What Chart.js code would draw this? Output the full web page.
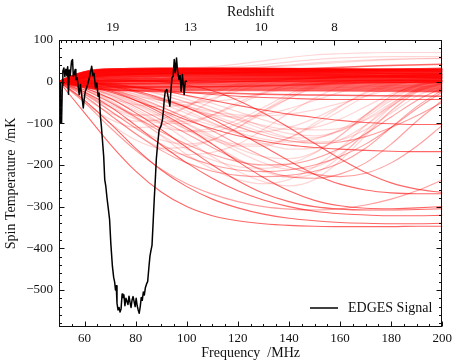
<!DOCTYPE html>
<html><head><meta charset="utf-8">
<script src="https://cdn.jsdelivr.net/npm/chart.js@4.4.0/dist/chart.umd.min.js"></script>
<style>html,body{margin:0;padding:0;background:#fff;overflow:hidden}canvas{display:block}</style>
</head><body>
<canvas id="c" width="456" height="361"></canvas>
<script>
// ---------- data ----------
const FREQ_GRID = [50,60,70,80,90,100,110,120,130,140,150,160,170,180,190,200];
const BAND_GRID = [50,55,60,65,75,90,110,130,150,175,200];
const X_TICKS = [60,80,100,120,140,160,180,200];
const Y_TICKS = [-500,-400,-300,-200,-100,0,100];
const REDSHIFT_TICKS = [19,13,10,8];
const REDSHIFT_MINOR = [27,26,25,24,23,22,21,20,18,17,16,15,14,12,11,10.5,9.5,9,8.5,7.5,7,6.5];

const EDGES_FREQ = [50.0,50.4,50.6,51.0,51.3,51.5,51.9,52.3,52.7,53.1,53.4,53.7,54.0,54.4,54.9,55.3,55.6,56.0,56.3,56.6,57.1,57.5,57.9,58.4,59.1,59.5,59.9,60.3,60.8,61.3,61.9,62.4,62.8,63.3,63.7,64.3,64.8,65.3,65.7,66.2,66.6,67.0,67.5,67.9,68.3,68.8,69.3,69.8,70.3,70.9,71.4,71.8,72.1,72.4,72.7,73.1,73.5,73.9,74.3,74.7,75.0,75.4,75.8,76.2,76.6,77.0,77.4,77.8,78.2,78.6,79.0,79.4,79.8,80.2,80.6,81.0,81.4,81.8,82.2,82.6,83.0,83.4,83.8,84.3,84.7,85.2,85.6,86.0,86.4,86.9,87.3,87.7,88.1,88.6,89.2,89.9,90.5,90.9,91.2,91.6,92.2,92.9,93.4,93.8,94.2,94.7,95.1,95.5,96.0,96.4,97.0,97.4,97.8,98.3,99.0,99.4,99.9];
const EDGES_TEMP = [0,-5,-98,-100,-10,25,33,12,30,14,36,-30,28,15,49,53,13,20,29,5,9,-10,-31,-7,-43,-63,-40,-23,-15,-5,10,25,37,14,20,-15,-3,-35,-27,-83,-108,-140,-180,-235,-250,-280,-305,-331,-390,-443,-470,-482,-500,-490,-532,-548,-542,-553,-545,-510,-518,-512,-538,-520,-527,-535,-515,-530,-542,-524,-516,-528,-540,-520,-538,-548,-556,-540,-518,-525,-505,-512,-495,-485,-480,-445,-419,-405,-393,-331,-280,-235,-185,-150,-115,-107,-91,-67,-43,-23,-19,-43,-59,-23,9,13,53,22,57,25,5,15,-23,17,-31,1,1];

// dense band of near-flat models (sampled at BAND_GRID)
const BAND_CURVES = [
 [0,14,24,29,31,32,32,32,31,30,30],
 [0,14,23,28,31,32,32,31,31,30,29],
 [0,13,23,28,30,31,31,31,30,29,29],
 [0,12,22,27,29,30,30,30,29,28,27],
 [0,11,21,26,28,29,29,29,28,27,26],
 [0,11,20,25,28,29,29,28,27,26,25],
 [0,10,19,24,27,28,28,27,26,25,24],
 [0,10,18,23,26,27,27,26,25,24,22],
 [0,9,17,22,25,26,26,25,24,22,21],
 [0,8,16,21,24,25,25,24,23,21,19],
 [0,8,15,20,23,24,24,23,22,20,18],
 [0,7,14,19,22,23,23,22,21,20,18],
 [0,7,13,18,21,22,22,21,20,19,17],
 [0,6,12,17,20,21,21,20,19,17,15],
 [0,6,11,15,18,20,20,19,18,16,14],
 [0,5,10,14,17,19,19,18,17,15,13],
 [0,5,9,13,16,18,18,17,16,14,12],
 [0,4,8,12,15,17,17,16,15,13,11],
 [0,4,8,11,14,15,16,15,14,12,10],
 [0,3,7,10,12,14,14,14,13,11,9],
 [0,3,6,9,11,13,13,13,12,11,9],
 [0,2,5,7,9,11,11,11,10,9,8],
 [0,2,4,6,8,9,10,10,9,8,7],
 [0,1,3,4,6,7,8,8,7,6,5],
 [0,1,2,3,5,6,7,7,6,5,4],
 [0,0,1,2,3,4,5,5,4,3,2],
 [0,0,0,1,2,3,3,3,2,1,0],
 [0,0,-1,-1,0,1,1,1,0,-1,-2],
 [0,-1,-2,-2,-1,0,0,0,-1,-2,-3],
 [0,-2,-3,-4,-4,-3,-3,-3,-4,-5,-6],
 [0,-3,-5,-6,-6,-6,-6,-6,-7,-8,-10],
 [0,-3,-6,-8,-9,-9,-9,-9,-10,-11,-13],
 [0,-4,-8,-10,-12,-12,-12,-12,-13,-14,-16],
 [0,-5,-9,-12,-14,-15,-15,-15,-16,-17,-19],
 [0,-6,-11,-15,-17,-18,-18,-18,-19,-20,-22],
 [0,-7,-13,-17,-20,-21,-21,-21,-22,-23,-24],
 [0,10,18,22,24,25,26,28,32,38,42],
 [0,-2,-4,-5,-5,-4,-2,2,8,14,18],
 [0,-5,-9,-12,-13,-13,-12,-10,-6,-2,0],
 [0,5,10,14,17,19,21,23,26,28,30],
 [0,8,14,18,20,21,22,24,27,29,32],
 [0,-8,-14,-18,-21,-24,-27,-30,-32,-34,-35],
 [0,12,21,26,28,29,29,29,28,26,24],
 [0,6,12,16,19,20,21,22,24,26,28],
 [0,-1,-1,0,1,2,4,6,9,12,15]
];

// faint models rising above the band (sampled at FREQ_GRID)
const HIGH_CURVES = [
 [0,18,26,29,31,33,36,42,50,58,64,67,69,70,70,70],
 [0,16,24,27,29,31,33,36,41,47,53,57,59,60,60,60],
 [0,15,23,26,28,29,30,32,35,40,45,49,52,54,55,55],
 [0,17,25,28,30,31,32,33,35,38,42,46,50,53,55,56]
];

// deep / strongly absorbing models (sampled at FREQ_GRID)
const DEEP_CURVES = [
 [0,-75,-150,-215,-265,-300,-322,-334,-341,-345,-347,-348,-348,-348,-347,-347],
 [0,-45,-100,-160,-212,-252,-282,-303,-318,-328,-334,-338,-340,-341,-341,-340],
 [0,-25,-60,-105,-152,-195,-232,-262,-284,-300,-311,-317,-320,-322,-322,-321],
 [0,-15,-40,-75,-115,-158,-200,-238,-268,-288,-300,-306,-308,-308,-307,-305],
 [0,-8,-22,-45,-75,-110,-150,-192,-230,-262,-285,-298,-304,-305,-303,-300],
 [0,-3,-10,-22,-40,-62,-90,-122,-155,-190,-222,-246,-260,-267,-269,-269],
 [0,3,4,3,0,-8,-22,-45,-75,-110,-148,-185,-218,-243,-258,-266],
 [0,-10,-25,-45,-68,-92,-113,-130,-143,-152,-158,-162,-165,-167,-168,-168],
 [0,-2,-6,-13,-22,-33,-45,-57,-68,-78,-86,-93,-98,-101,-103,-103],
 [0,-3,-8,-14,-20,-26,-31,-35,-38,-40,-42,-43,-43,-43,-43,-43]
];

// medium models that dip and recover (sampled at FREQ_GRID)
const MID_CURVES = [
 [0,-20,-50,-85,-120,-150,-175,-192,-200,-198,-185,-160,-125,-85,-45,-15],
 [0,-12,-32,-60,-92,-125,-158,-188,-212,-228,-232,-222,-195,-150,-95,-45],
 [0,-30,-70,-112,-150,-180,-200,-212,-216,-212,-200,-180,-150,-110,-65,-25],
 [0,-6,-18,-36,-60,-88,-118,-150,-180,-205,-222,-228,-220,-195,-155,-105],
 [0,-4,-12,-25,-42,-62,-85,-108,-128,-142,-148,-145,-132,-110,-82,-50],
 [0,-50,-110,-165,-210,-245,-270,-288,-300,-306,-308,-305,-296,-282,-262,-236],
 [0,-35,-80,-125,-165,-195,-215,-225,-228,-225,-215,-195,-160,-110,-60,-20]
];

// faint absorption troughs (sampled at FREQ_GRID)
const FAINT_CURVES = [
 [0,-40,-75,-95,-90,-60,-25,-5,0,2,3,3,3,3,3,3],
 [0,-30,-60,-80,-80,-60,-30,-8,0,2,2,2,2,2,2,2],
 [0,-20,-50,-80,-100,-100,-80,-50,-25,-8,0,2,3,3,3,3],
 [0,-15,-40,-70,-100,-120,-120,-100,-70,-40,-15,-3,0,1,1,1],
 [0,-25,-70,-110,-140,-150,-140,-110,-70,-35,-10,0,2,3,3,3],
 [0,-10,-30,-55,-85,-115,-140,-155,-155,-135,-100,-60,-25,-5,0,2],
 [0,-5,-18,-40,-70,-100,-130,-160,-180,-185,-170,-130,-80,-35,-8,0],
 [0,-8,-25,-50,-80,-115,-150,-185,-215,-230,-220,-180,-120,-60,-20,-5],
 [0,-12,-35,-65,-100,-140,-180,-215,-240,-250,-235,-190,-130,-70,-25,-8],
 [0,0,-5,-15,-30,-50,-70,-90,-105,-115,-110,-90,-60,-30,-10,0],
 [0,-3,-10,-25,-45,-65,-80,-85,-80,-65,-45,-25,-10,-2,0,1],
 [0,-20,-40,-55,-60,-55,-40,-22,-8,0,2,3,3,3,3,3],
 [0,-2,-8,-18,-32,-50,-70,-92,-115,-135,-145,-140,-115,-75,-35,-10],
 [0,-5,-15,-30,-45,-60,-72,-80,-82,-78,-68,-52,-35,-18,-6,0],
 [0,-10,-22,-35,-45,-50,-48,-40,-28,-15,-5,0,2,3,3,3],
 [0,-50,-90,-110,-105,-80,-45,-15,-2,2,3,3,3,3,3,3],
 [0,-35,-80,-125,-160,-175,-170,-150,-115,-75,-40,-12,0,2,3,3],
 [0,-15,-45,-85,-130,-175,-210,-235,-245,-235,-205,-160,-105,-55,-18,-3],
 [0,-6,-20,-42,-70,-102,-135,-168,-195,-210,-205,-175,-125,-70,-25,-5],
 [0,-4,-12,-26,-45,-70,-98,-125,-148,-162,-160,-140,-105,-60,-22,-5],
 [0,-25,-55,-80,-95,-95,-80,-55,-28,-8,0,2,3,3,3,3],
 [0,-8,-22,-40,-62,-85,-105,-118,-120,-110,-88,-58,-28,-8,0,2],
 [0,-2,-6,-14,-26,-42,-62,-85,-108,-125,-130,-118,-90,-52,-18,-2],
 [0,-45,-100,-140,-160,-158,-140,-110,-75,-40,-12,0,2,3,3,3],
 [0,-10,-28,-52,-80,-110,-135,-150,-150,-135,-105,-70,-35,-10,0,2],
 [0,-3,-10,-22,-38,-58,-80,-102,-122,-135,-135,-118,-85,-45,-12,0],
 [0,-28,-62,-90,-110,-118,-112,-92,-62,-30,-8,0,2,3,3,3],
 [0,-6,-16,-32,-52,-76,-100,-122,-138,-145,-138,-115,-80,-40,-10,0],
 [0,-18,-48,-88,-128,-162,-188,-204,-208,-198,-172,-130,-80,-35,-8,0],
 [0,-1,-4,-10,-20,-34,-52,-72,-92,-108,-116,-112,-92,-58,-22,-3]
];

// ---------- chart ----------
const FONT = "'Liberation Serif', 'Times New Roman', serif";
const pts = (xs, ys) => xs.map((x, i) => ({x: x, y: ys[i]}));
const datasets = [];
datasets.push({label: 'EDGES Signal', data: pts(EDGES_FREQ, EDGES_TEMP), borderColor: '#000', borderWidth: 1.5, tension: 0, order: 0});
function addGroup(curves, grid, color, width) {
  curves.forEach(c => datasets.push({label: '', data: pts(grid, c), borderColor: color, borderWidth: width, cubicInterpolationMode: 'monotone', order: 1}));
}
addGroup(FAINT_CURVES, FREQ_GRID, 'rgba(255,0,0,0.16)', 1.3);
addGroup(HIGH_CURVES, FREQ_GRID, 'rgba(255,0,0,0.16)', 1.2);
addGroup(MID_CURVES, FREQ_GRID, 'rgba(255,0,0,0.38)', 1.1);
addGroup(DEEP_CURVES, FREQ_GRID, 'rgba(255,0,0,0.6)', 1.1);
addGroup(BAND_CURVES, BAND_GRID, 'rgba(255,0,0,0.6)', 1.5);

const toFreq = z => 1420.4 / (1 + z);
const fmt = v => (v < 0 ? '\u2212' + Math.abs(v) : String(v));

const frame = {
  id: 'frame',
  afterDraw(chart) {
    const {ctx, chartArea: a, scales: {x, y}} = chart;
    ctx.save();
    ctx.strokeStyle = '#111';
    ctx.lineWidth = 1;
    const L = Math.round(a.left) + 0.5, R = Math.round(a.right) - 0.5, T = Math.round(a.top) + 0.5, B = Math.round(a.bottom) - 0.5;
    ctx.strokeRect(L, T, R - L, B - T);
    ctx.beginPath();
    const maj = 5, mnr = 2.5;
    for (let v = -580; v <= 100; v += 20) {
      const p = Math.round(y.getPixelForValue(v)) + 0.5;
      if (p < T || p > B) continue;
      const len = (v % 100 === 0) ? maj : mnr;
      ctx.moveTo(L, p); ctx.lineTo(L + len, p);
      ctx.moveTo(R, p); ctx.lineTo(R - len, p);
    }
    for (let f = 50; f <= 200; f += 5) {
      const p = Math.round(x.getPixelForValue(f)) + 0.5;
      const len = (f % 20 === 0) ? maj : mnr;
      ctx.moveTo(p, B); ctx.lineTo(p, B - len);
    }
    REDSHIFT_TICKS.forEach(z => { const p = Math.round(x.getPixelForValue(toFreq(z))) + 0.5; ctx.moveTo(p, T); ctx.lineTo(p, T + maj); });
    REDSHIFT_MINOR.forEach(z => { const f = toFreq(z); if (f < 50 || f > 200) return; const p = Math.round(x.getPixelForValue(f)) + 0.5; ctx.moveTo(p, T); ctx.lineTo(p, T + mnr); });
    ctx.stroke();
    // legend
    const ds = chart.data.datasets[0];
    ctx.beginPath(); ctx.strokeStyle = '#000'; ctx.lineWidth = 1.5;
    ctx.moveTo(310, 308); ctx.lineTo(338, 308); ctx.stroke();
    ctx.fillStyle = '#111'; ctx.font = '14px ' + FONT; ctx.textBaseline = 'middle'; ctx.textAlign = 'left';
    ctx.fillText(ds.label, 348, 308);
    ctx.restore();
  }
};

new Chart(document.getElementById('c'), {
  type: 'line',
  data: {datasets},
  options: {
    responsive: false, animation: false, devicePixelRatio: 1, events: [],
    layout: {padding: {left: 0, right: 11, top: 0, bottom: 0}},
    elements: {point: {radius: 0}, line: {borderCapStyle: 'round', borderJoinStyle: 'round'}},
    plugins: {legend: {display: false}, tooltip: {enabled: false}},
    scales: {
      x: {
        type: 'linear', position: 'bottom', min: 50, max: 200,
        afterBuildTicks: s => { s.ticks = X_TICKS.map(v => ({value: v})); },
        afterFit: s => { s.height = 34; },
        grid: {display: false, drawTicks: false}, border: {display: false},
        ticks: {color: '#111', font: {family: FONT, size: 13}, padding: 4, maxRotation: 0, autoSkip: false},
        title: {display: true, text: 'Frequency  /MHz', color: '#111', font: {family: FONT, size: 14}, padding: {top: 0, bottom: -1}}
      },
      x2: {
        type: 'linear', position: 'top', min: 50, max: 200,
        afterBuildTicks: s => { s.ticks = REDSHIFT_TICKS.map(z => ({value: toFreq(z)})); },
        afterFit: s => { s.height = 40; },
        grid: {display: false, drawTicks: false}, border: {display: false},
        ticks: {color: '#111', font: {family: FONT, size: 13}, padding: 5, maxRotation: 0, autoSkip: false,
                callback: (v, i) => String(REDSHIFT_TICKS[i])},
        title: {display: true, text: 'Redshift', color: '#111', font: {family: FONT, size: 14}, padding: {top: 4, bottom: 0}}
      },
      y: {
        type: 'linear', position: 'left', min: -589, max: 100,
        afterBuildTicks: s => { s.ticks = Y_TICKS.map(v => ({value: v})); },
        afterFit: s => { s.width = 59; },
        grid: {display: false, drawTicks: false}, border: {display: false},
        ticks: {color: '#111', font: {family: FONT, size: 13}, padding: 6, autoSkip: false, callback: v => fmt(v)},
        title: {display: true, text: 'Spin Temperature  /mK', color: '#111', font: {family: FONT, size: 14}, padding: {top: 3, bottom: 0}}
      }
    }
  },
  plugins: [frame]
});
</script>
</body></html>
